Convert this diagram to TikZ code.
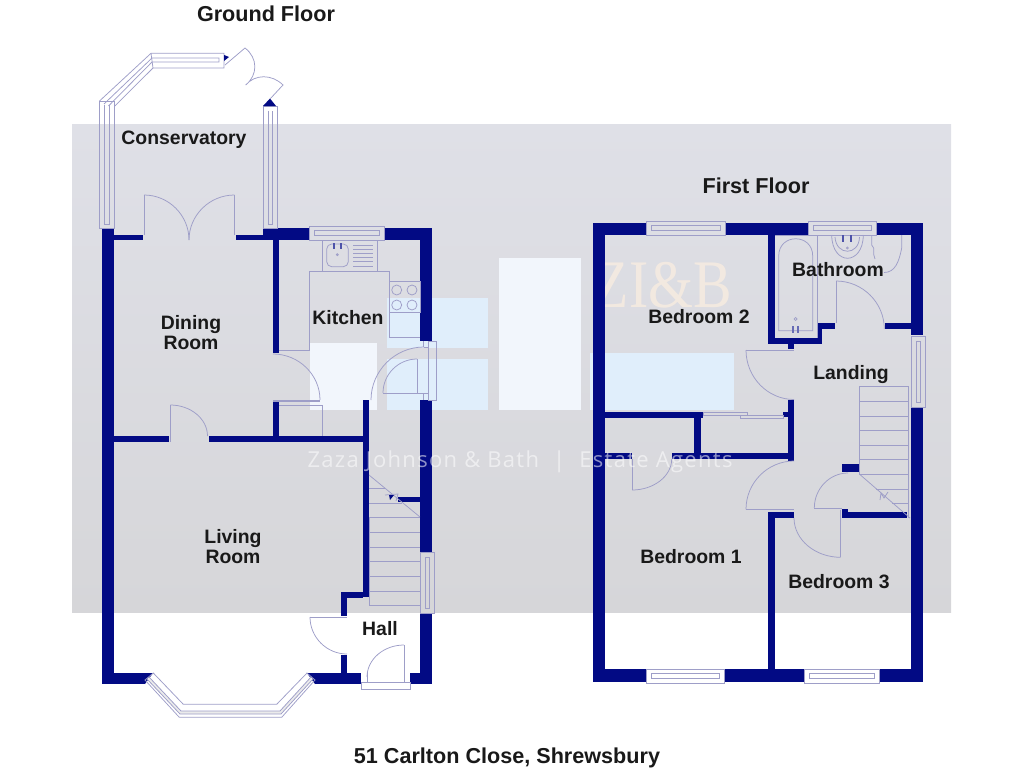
\documentclass[tikz,border=0pt]{standalone}
\usepackage{fontspec}
\setmainfont{Liberation Sans}
\newfontfamily\logofont{Liberation Serif}
\newfontfamily\markfont[LetterSpace=6]{Open Sans}
\usetikzlibrary{calc}
\definecolor{wallblue}{RGB}{2,10,132}
\definecolor{fineline}{RGB}{158,158,200}
\definecolor{bandtop}{RGB}{223,224,231}
\definecolor{bandbot}{RGB}{214,214,217}
\definecolor{paleblue}{RGB}{224,238,251}
\definecolor{palewhite}{RGB}{242,246,252}
\tikzset{%
  wall/.style     = {fill=wallblue,draw=none},%
  thinline/.style = {draw=fineline,line width=0.75pt},%
  room/.style     = {font=\fontsize{19.4}{19.5}\selectfont\bfseries,align=center,text=black!90,inner sep=0pt},%
  heading/.style  = {room,font=\fontsize{21.6}{22}\selectfont\bfseries},%
  paneblue/.style = {fill=paleblue,draw=none},%
  panewhite/.style= {fill=palewhite,draw=none}%
}
\newcommand{\swing}[6]{\draw[thinline] (#1,#2) .. controls ({#1+0.55*(#3-#1)},{#2+0.55*(#4-#2)}) and ({#5+0.55*(#3-#5)},{#6+0.55*(#4-#6)}) .. (#5,#6);}
\begin{document}
\begin{tikzpicture}[x=1pt,y=-1pt]
	\useasboundingbox (0,0) rectangle (1024,768);
	% backdrop
	\shade[top color=bandtop,bottom color=bandbot] (72,124) rectangle (951,612);%
	\foreach \xa/\ya/\xb/\yb in {387/298/488/348,387/359/488/410,590/353/734/410}{%
		\fill[paneblue] (\xa,\ya) rectangle (\xb,\yb);%
	}
	\fill[panewhite] (499,258) rectangle (581,410);%
	\fill[panewhite] (310,343) rectangle (377,410);%
	\node (logo) at (663,285) [xscale=0.85,font=\fontsize{68}{68}\logofont,text=orange!12!white,opacity=0.65,inner sep=0pt] {ZI\&B};%
	% walls
	\foreach \xa/\ya/\xb/\yb in {%
		102/228/114/684, 114/234.7/143/240, 236/234.7/263/240, 263/228/309/240,%
		384/228/432/240, 420/240/432/341, 273/240/279/353, 420/400/432/552,%
		420/613/432/684, 273/402/279/436, 114/436/169/442, 209/436/369/442,%
		363/400/369/597, 341/592/363/598, 341/598/347/616, 341/655/347/673,%
		398/497/420/502, 315/673/361/684, 410/673/420/684, 114/673/145/684,%
		593/223/605/682, 605/223/647/235, 725/223/808/235, 876/223/923/235,%
		911/235/923/335, 911/407/923/682, 605/669/646/682, 724/669/804/682,%
		879/669/911/682, 768/235/775/344, 775/338/822/344, 817/323/835/329,%
		817/329/822/338, 885/323/911/329, 788/344/794/349, 788/400/794/461,%
		605/412/703/418, 694/418/701/459, 605/453/632/459, 672/453/788/459,%
		783/412/788/417, 768/512/794/518, 768/518/775/669, 842/509/848/512,%
		842/512/907/518, 842/464/859/472%
		}{%
		\fill[wall] (\xa,\ya) rectangle (\xb,\yb);%
	}
	\fill[wall] (145,673) -- (153,673) -- (145,684) -- cycle;%
	\fill[wall] (307,673) -- (315,673) -- (315,684) -- cycle;%
	% conservatory glazing
	\foreach \xa/\ya/\xb/\yb in {99.5/101/114.3/228, 263/106.5/277.5/228}{%
		\draw[thinline] (\xa,\ya) rectangle (\xb,\yb);%
		\draw[thinline] (\xa+5,\ya+4) -- (\xa+5,\yb-4) -- (\xa+9.5,\yb-4) -- (\xa+9.5,\ya+4);%
	}
	\draw[thinline] (99.5,101) -- (151,53.3) -- (224,53.3) -- (224,68) -- (153,68) -- (114.3,106.5);%
	\draw[thinline] (104,104) -- (152,58) -- (219,58) -- (219,62) -- (152,62) -- (108.5,106);%
	\draw[thinline] (151,53.3) -- (153,68);%
	\fill[wallblue] (224,55) -- (229,57) -- (224,61) -- cycle;%
	\fill[wallblue] (263,106) -- (270,98.5) -- (276,106) -- cycle;%
	\draw[thinline] (225,65) -- (245,48) .. controls (258,58) and (258,75) .. (245.7,85) .. controls (255,74) and (272,74) .. (283,85) -- (270,99);%
	% windows
	\foreach \xa/\ya/\xb/\yb in {309/226/384/240, 646/221/725/235, 808/221/876/235, 646/669/724/683, 804/669/879/683}{%
		\draw[thinline] (\xa,\ya) rectangle (\xb,\yb);%
		\draw[thinline] (\xa+5,\ya+4.5) rectangle (\xb-5,\yb-4.5);%
	}
	\foreach \xa/\ya/\xb/\yb in {420/552/434.5/613, 911/336/925/407}{%
		\draw[thinline] (\xa,\ya) rectangle (\xb,\yb);%
		\draw[thinline] (\xa+5,\ya+5) rectangle (\xb-5,\yb-5);%
	}
	% bay
	\fill[black!8] (149,677) -- (181,711) -- (280,711) -- (311,677) -- (313,679) -- (281,714) -- (180,714) -- (147,679) -- cycle;%
	\draw[thinline] (145,680) -- (179.3,717.3) -- (281.7,717.3) -- (315,680) -- (307,673) -- (276.7,704.3) -- (183.3,704.3) -- (153.3,673) -- cycle;%
	\draw[thinline] (149,677) -- (181,711) -- (280,711) -- (311,677);%
	\draw[thinline] (147,679) -- (180,714) -- (281,714) -- (313,679);%
	% doors
	\swing{144}{195}{189}{195}{189}{240}%
	\swing{234.5}{195}{189}{195}{189}{240}%
	\swing{170.3}{405}{207.5}{405}{207.5}{436}%
	\swing{273}{354}{320}{354}{320}{400}%
	\swing{424}{347}{371}{347}{371}{400}%
	\swing{417}{359}{383}{359}{383}{393}%
	\swing{310}{617}{310}{654}{347}{654}%
	\swing{404}{645}{367}{645}{367}{677}%
	\swing{836}{281}{884.3}{281}{884.3}{329}%
	\swing{746}{350}{746}{399.5}{794}{399.5}%
	\swing{632}{490}{671.7}{490}{671.7}{459}%
	\swing{794}{461}{746}{461}{746}{509.3}%
	\swing{794}{518}{794}{557.3}{840.7}{557.3}%
	\swing{848}{473}{814.3}{473}{814.3}{508}%
	\foreach \xa/\ya/\xb/\yb in {%
		144/235/144/195, 234.5/235/234.5/195, 170.3/405/170.3/442, 273/400/320/400,%
		273/401.5/320/401.5, 424/347/428/347, 383/393/428/393, 417/359/417/393,%
		310/617/347/617, 404/645/404/677, 367/672/367/682, 404/677/404/682,%
		836/281/836/323, 746/350/794/350, 632/459/632/490, 746/509.3/794/509.3,%
		840.7/557/840.7/510, 814.3/508/842/508%
		}{%
		\draw[thinline] (\xa,\ya) -- (\xb,\yb);%
	}
	\draw[thinline] (361,682) rectangle (410,689);%
	\draw[thinline] (428,341) rectangle (436.7,400);%
	\draw[thinline] (423,341) -- (423,347);%
	\draw[thinline] (423,393) -- (423,400);%
	% sliding doors
	\draw[thinline] (703,412) rectangle (747,415);%
	\draw[thinline] (740,415) rectangle (783,418);%
	% kitchen
	\draw[thinline] (322.7,240) rectangle (377.3,271);%
	\draw[thinline] (279,350.5) -- (309.3,350.5) -- (309.3,271) -- (389.3,271) -- (389.3,337.7) -- (420,337.7);%
	\draw[thinline] (389.3,281.7) rectangle (420,312);%
	\draw[thinline] (279,405) -- (322.7,405) -- (322.7,436);%
	\foreach \xa/\ya in {396.7/290,412/290,396.7/305,412/305}{%
		\draw[thinline] (\xa,\ya) circle (5);%
	}
	\draw[thinline,rounded corners=5pt] (326.7,244) rectangle (348.3,266.7);%
	\foreach \xa in {334,340.7}{%
		\fill[wallblue!70] (\xa-1,243) rectangle (\xa+1,249);%
	}
	\draw[thinline] (337.3,254.7) circle (1);%
	\foreach \ya in {245,249,253.3,257.3,261.7,266}{%
		\draw[thinline] (353.3,\ya) -- (372.7,\ya);%
	}
	% ground floor stairs
	\foreach \ya in {532.3,547,561.7,576.3,591,605,517}{%
		\draw[thinline] (369,\ya) -- (420,\ya);%
	}
	\draw[thinline] (369,605) -- (369,517);%
	\draw[thinline] (369,475) -- (420,517);%
	\draw[thinline] (369,488) -- (385,488);%
	\draw[thinline] (369,503) -- (402,503);%
	\draw[thinline] (385,495) -- (398,494) -- (396,501);%
	\fill[wallblue] (389,495) -- (394,495) -- (390,500) -- cycle;%
	% bathroom
	\draw[thinline] (775,235) -- (817.3,235) -- (817.3,338);%
	\draw[thinline] (778.7,330.7) -- (778.7,256) .. controls (778.7,233) and (812.7,233) .. (812.7,256) -- (812.7,330.7) -- cycle;%
	\foreach \xa in {793.3,798.3}{%
		\fill[wallblue!60] (\xa-1,326) rectangle (\xa+1,333);%
	}
	\draw[thinline] (795.7,319) circle (1.5);%
	\draw[thinline] (831.7,235) .. controls (832,266) and (863,266) .. (863.3,235);%
	\draw[thinline] (835,237) .. controls (836,256) and (859,256) .. (859.5,237);%
	\foreach \xa in {843.3,851.3}{%
		\fill[wallblue!70] (\xa-1,235) rectangle (\xa+1,242);%
	}
	\draw[thinline] (847.3,248) circle (1);%
	\draw[thinline] (871.7,235) -- (871.7,245) .. controls (876,249) and (872,253) .. (875,259);%
	\draw[thinline] (901.7,235) -- (901.7,248) .. controls (899,262) and (895,272.5) .. (884,272.5);%
	% first floor stairs
	\foreach \ya in {401,416,430.3,445,459.3,474}{%
		\draw[thinline] (859.3,\ya) -- (908,\ya);%
	}
	\draw[thinline] (859.3,474) -- (859.3,386.7) -- (908,386.7) -- (908,518);%
	\draw[thinline] (859.3,474) -- (910,518);%
	\draw[thinline] (876,489) -- (908,489);%
	\draw[thinline] (892,503) -- (908,503);%
	\draw[thinline] (880,500) -- (881,493) -- (884,498) -- (888,492);%
	% strap line
	\node (strap) at (520,462) [font=\fontsize{22}{22}\markfont,text=white,opacity=0.55,inner sep=0pt] {Zaza Johnson \& Bath \ | \ Estate Agents};%
	% labels
	\node[heading] (groundfloor) at (266,14) {Ground Floor};%
	\node[room] (conservatory) at (184,140) {Conservatory};%
	\node[room] (dining) at (191,332.5) {Dining\\Room};%
	\node[room] (kitchen) at (348,318) {Kitchen};%
	\node[room] (living) at (233,546.5) {Living\\Room};%
	\node[room] (hall) at (380,629) {Hall};%
	\node[heading] (firstfloor) at (756,186) {First Floor};%
	\node[room] (bedroomtwo) at (699,317) {Bedroom 2};%
	\node[room] (bathroom) at (838,270) {Bathroom};%
	\node[room] (landing) at (851,375) {Landing};%
	\node[room] (bedroomone) at (691,557) {Bedroom 1};%
	\node[room] (bedroomthree) at (839,582) {Bedroom 3};%
	\node[heading] (address) at (507,758) {51 Carlton Close, Shrewsbury};%
\end{tikzpicture}
\end{document}
